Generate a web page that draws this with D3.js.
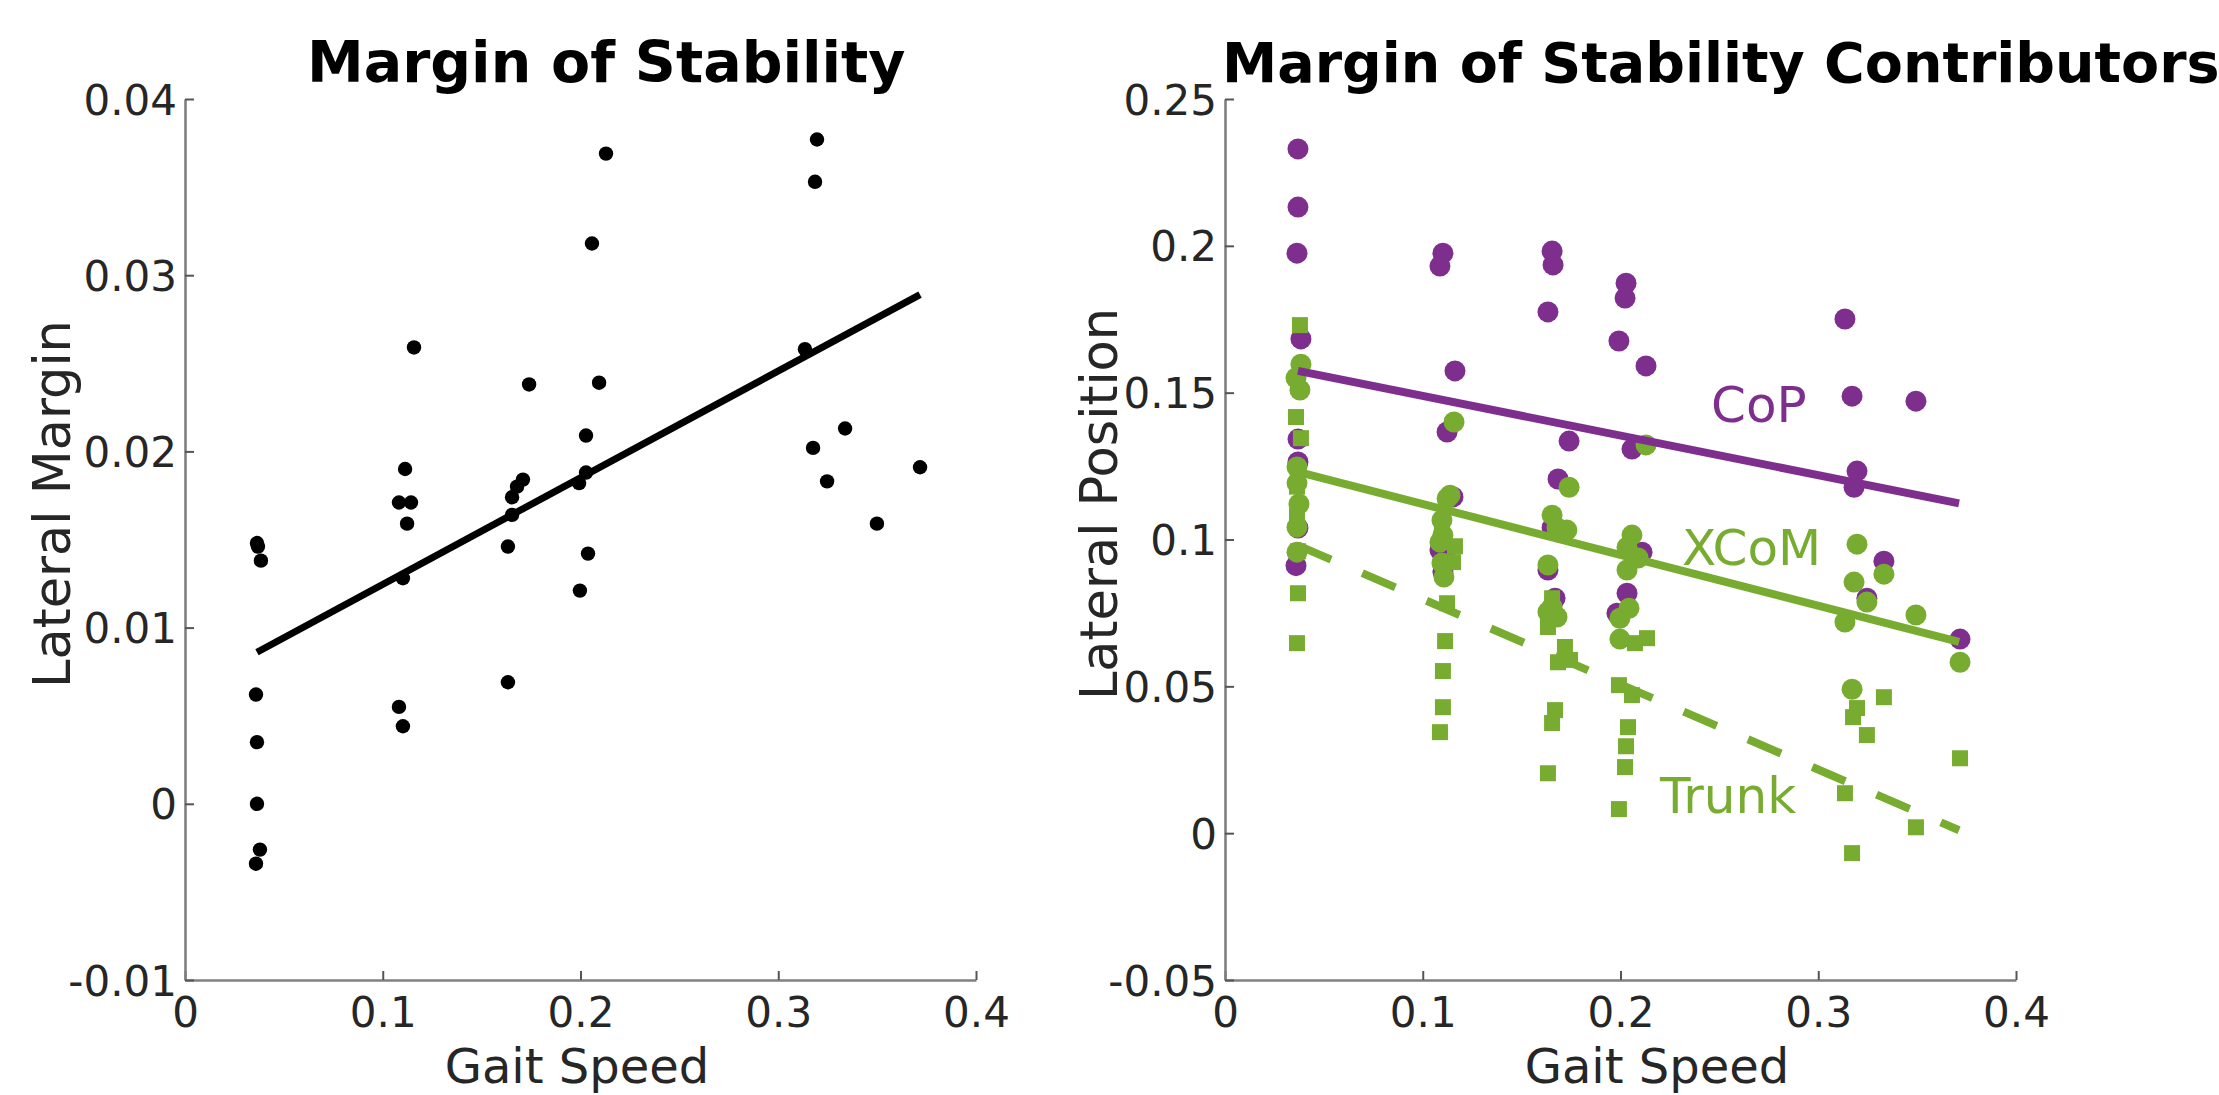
<!DOCTYPE html>
<html>
<head>
<meta charset="utf-8">
<script src="https://cdn.jsdelivr.net/npm/d3@7"></script>
<style>
  body { margin: 0; background: #fff; }
  svg { display: block; font-family: "DejaVu Sans", sans-serif; }
</style>
</head>
<body>
<svg id="drawing_region"></svg>
<script>
// ---- data ----
const xTicks = [0, 0.1, 0.2, 0.3, 0.4];
const mosTicks = [-0.01, 0, 0.01, 0.02, 0.03, 0.04];
const posTicks = [-0.05, 0, 0.05, 0.1, 0.15, 0.2, 0.25];

// left panel: margin of stability
const mosSpeed = [0.0364, 0.0369, 0.0384, 0.0359, 0.0364, 0.0364, 0.0379, 0.0359,
  0.1113, 0.1082, 0.1143, 0.1123, 0.1102, 0.1158, 0.1082, 0.1102,
  0.1740, 0.1709, 0.1679, 0.1654, 0.1654, 0.1633, 0.1633,
  0.2129, 0.2058, 0.2094, 0.2028, 0.1993, 0.2028, 0.2038, 0.1997,
  0.3196, 0.3186, 0.3135, 0.3338, 0.3176, 0.3247, 0.3499, 0.3717];
const mosValue = [0.0148, 0.0146, 0.0138, 0.0062, 0.0035, 0.0000, -0.0026, -0.0034,
  0.0190, 0.0171, 0.0171, 0.0159, 0.0128, 0.0259, 0.0055, 0.0044,
  0.0238, 0.0184, 0.0180, 0.0174, 0.0164, 0.0146, 0.0069,
  0.0369, 0.0318, 0.0239, 0.0209, 0.0182, 0.0188, 0.0142, 0.0121,
  0.0377, 0.0353, 0.0258, 0.0213, 0.0202, 0.0183, 0.0159, 0.0191];
const mosFitSpeed = [0.0364, 0.3717];
const mosFitValue = [0.0086, 0.0289];

// right panel: contributors
const copSpeed = [0.0369, 0.0369, 0.0364, 0.0384, 0.0369, 0.0369, 0.0369, 0.0359,
  0.1102, 0.1087, 0.1163, 0.1123, 0.1087, 0.1153, 0.1113, 0.1102,
  0.1654, 0.1659, 0.1633, 0.1740, 0.1684, 0.1633, 0.1669, 0.1654,
  0.2028, 0.2023, 0.1992, 0.2129, 0.2058, 0.2109, 0.2033, 0.1982,
  0.3135, 0.3171, 0.3494, 0.3196, 0.3181, 0.3332, 0.3246, 0.3717];
const copPos = [0.2330, 0.2132, 0.1975, 0.1683, 0.1342, 0.1264, 0.1039, 0.0911,
  0.1975, 0.1931, 0.1574, 0.1366, 0.0964, 0.1145, 0.0935, 0.0890,
  0.1982, 0.1935, 0.1775, 0.1335, 0.1206, 0.0896, 0.0800, 0.1040,
  0.1873, 0.1822, 0.1676, 0.1591, 0.1308, 0.0957, 0.0817, 0.0749,
  0.1751, 0.1488, 0.1471, 0.1233, 0.1178, 0.0926, 0.0800, 0.0661];

const xcomSpeed = [0.0384, 0.0359, 0.0379, 0.0364, 0.0364, 0.0374, 0.0364, 0.0364,
  0.1158, 0.1138, 0.1123, 0.1097, 0.1102, 0.1087, 0.1097, 0.1107,
  0.1740, 0.1654, 0.1679, 0.1729, 0.1633, 0.1654, 0.1633, 0.1679,
  0.2129, 0.2058, 0.2033, 0.2089, 0.2033, 0.2043, 0.1997, 0.1997,
  0.3196, 0.3332, 0.3181, 0.3246, 0.3494, 0.3135, 0.3717, 0.3171];
const xcomPos = [0.1597, 0.1550, 0.1509, 0.1247, 0.1192, 0.1121, 0.1042, 0.0957,
  0.1400, 0.1151, 0.1140, 0.1066, 0.1015, 0.0991, 0.0920, 0.0872,
  0.1178, 0.1083, 0.1040, 0.1032, 0.0913, 0.0770, 0.0753, 0.0736,
  0.1322, 0.1015, 0.0974, 0.0937, 0.0896, 0.0766, 0.0732, 0.0661,
  0.0984, 0.0882, 0.0855, 0.0787, 0.0743, 0.0719, 0.0582, 0.0490];

const trunkSpeed = [0.0379, 0.0359, 0.0384, 0.0369, 0.0364, 0.0364, 0.0364, 0.0369,
  0.1163, 0.1153, 0.1123, 0.1113, 0.1102, 0.1102, 0.1087, 0.1097,
  0.1633, 0.1719, 0.1745, 0.1684, 0.1669, 0.1654, 0.1633, 0.1654,
  0.2134, 0.2073, 0.1992, 0.2058, 0.2038, 0.2028, 0.2023, 0.1992,
  0.3332, 0.3196, 0.3176, 0.3246, 0.3717, 0.3135, 0.3494, 0.3171];
const trunkPos = [0.1730, 0.1417, 0.1345, 0.0817, 0.0647, 0.1180, 0.1080, 0.0960,
  0.0977, 0.0923, 0.0783, 0.0654, 0.0552, 0.0429, 0.0344, 0.1050,
  0.0702, 0.0634, 0.0590, 0.0582, 0.0419, 0.0375, 0.0204, 0.0800,
  0.0664, 0.0647, 0.0504, 0.0470, 0.0361, 0.0296, 0.0225, 0.0082,
  0.0463, 0.0426, 0.0395, 0.0334, 0.0255, 0.0136, 0.0020, -0.0068];

const fitSpeed = [0.0369, 0.3712];
const copFit = [0.1574, 0.1123];
const xcomFit = [0.1230, 0.0651];
const trunkFit = [0.0980, 0.0010];

const purple = '#7E2F8E';
const green = '#77AC30';

const zip = (xs, ys) => xs.map((x, i) => ({x: x, y: ys[i]}));

const svg = d3.select('#drawing_region')
    .attr('width', 2219)
    .attr('height', 1095);

function makeAxes(x0, x1, yDomain, yTickVals) {
    const xscale = d3.scaleLinear().domain([0, 0.4]).range([x0, x1]);
    const yscale = d3.scaleLinear().domain(yDomain).range([980, 99]);

    const xaxis = d3.axisBottom(xscale)
        .tickValues(xTicks)
        .tickFormat(d => d === 0 ? '0' : d3.format('.1f')(d))
        .tickSizeInner(-9).tickSizeOuter(0).tickPadding(17);
    const yaxis = d3.axisLeft(yscale)
        .tickValues(yTickVals)
        .tickFormat(d => d === 0 ? '0' : String(+d.toFixed(3)))
        .tickSizeInner(-9).tickSizeOuter(0).tickPadding(8);

    const gx = svg.append('g').attr('transform', 'translate(0,980)').call(xaxis);
    const gy = svg.append('g').attr('transform', `translate(${x0},0)`).call(yaxis);

    [gx, gy].forEach(g => {
        g.select('.domain').attr('stroke', '#808080').attr('stroke-width', 2.6);
        g.selectAll('.tick line').attr('stroke', '#555').attr('stroke-width', 2);
        g.selectAll('.tick text')
            .attr('fill', '#262626')
            .attr('font-size', '42px')
            .attr('font-family', '"DejaVu Sans", sans-serif');
    });
    gx.selectAll('.tick text').attr('dy', '0.71em');
    gy.selectAll('.tick text').attr('dy', '0.36em');
    return {xscale, yscale};
}

function label(x, y, txt, opts) {
    const t = svg.append('text')
        .attr('x', x).attr('y', y)
        .attr('font-size', opts.size)
        .attr('fill', opts.fill || '#262626')
        .attr('text-anchor', opts.anchor || 'middle')
        .text(txt);
    if (opts.bold) t.attr('font-weight', 'bold');
    if (opts.rotate) t.attr('transform', `rotate(-90, ${x}, ${y})`);
    return t;
}

// ---------- left panel ----------
const L = makeAxes(185, 976, [-0.01, 0.04], mosTicks);
const lineL = d3.line().x(d => L.xscale(d.x)).y(d => L.yscale(d.y));

svg.append('g').selectAll('circle')
    .data(zip(mosSpeed, mosValue))
    .join('circle')
    .attr('cx', d => L.xscale(d.x))
    .attr('cy', d => L.yscale(d.y))
    .attr('r', 7.2)
    .attr('fill', '#000');

svg.append('path')
    .attr('d', lineL(zip(mosFitSpeed, mosFitValue)))
    .attr('stroke', '#000').attr('stroke-width', 7).attr('fill', 'none');

label(307, 82, 'Margin of Stability', {size: '57px', bold: true, fill: '#000', anchor: 'start'});
label(577, 1083, 'Gait Speed', {size: '48px'});
label(70, 504, 'Lateral Margin', {size: '51px', rotate: true});

// ---------- right panel ----------
const R = makeAxes(1225, 2016, [-0.05, 0.25], posTicks);
const lineR = d3.line().x(d => R.xscale(d.x)).y(d => R.yscale(d.y));

svg.append('g').selectAll('circle')
    .data(zip(copSpeed, copPos))
    .join('circle')
    .attr('cx', d => R.xscale(d.x))
    .attr('cy', d => R.yscale(d.y))
    .attr('r', 10.5)
    .attr('fill', purple);

svg.append('g').selectAll('rect')
    .data(zip(trunkSpeed, trunkPos))
    .join('rect')
    .attr('x', d => R.xscale(d.x) - 8)
    .attr('y', d => R.yscale(d.y) - 8)
    .attr('width', 16).attr('height', 16)
    .attr('fill', green);

svg.append('g').selectAll('circle')
    .data(zip(xcomSpeed, xcomPos))
    .join('circle')
    .attr('cx', d => R.xscale(d.x))
    .attr('cy', d => R.yscale(d.y))
    .attr('r', 10.5)
    .attr('fill', green);

svg.append('path')
    .attr('d', lineR(zip(fitSpeed, copFit)))
    .attr('stroke', purple).attr('stroke-width', 8).attr('fill', 'none');
svg.append('path')
    .attr('d', lineR(zip(fitSpeed, xcomFit)))
    .attr('stroke', green).attr('stroke-width', 8).attr('fill', 'none');
svg.append('path')
    .attr('d', lineR(zip(fitSpeed, trunkFit)))
    .attr('stroke', green).attr('stroke-width', 8).attr('fill', 'none')
    .attr('stroke-dasharray', '36,34');

label(R.xscale(0.2458), R.yscale(0.140), 'CoP', {size: '50px', fill: purple, anchor: 'start'});
label(R.xscale(0.2311), R.yscale(0.0913), 'XCoM', {size: '50px', fill: green, anchor: 'start'});
label(R.xscale(0.2200), R.yscale(0.0068), 'Trunk', {size: '50px', fill: green, anchor: 'start'});

label(1222, 82, 'Margin of Stability Contributors', {size: '55.5px', bold: true, fill: '#000', anchor: 'start'});
label(1657, 1083, 'Gait Speed', {size: '48px'});
label(1117, 504, 'Lateral Position', {size: '51px', rotate: true});
</script>
</body>
</html>
